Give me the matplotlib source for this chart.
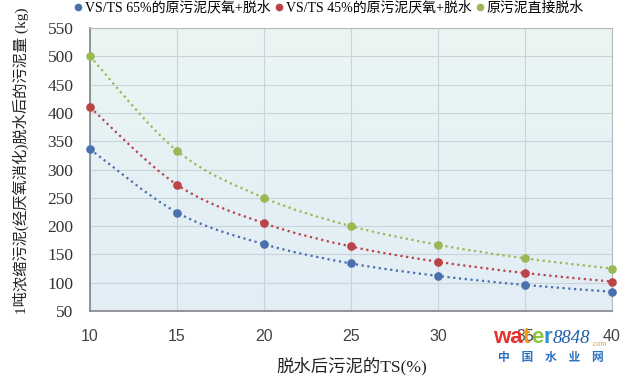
import numpy as np
import matplotlib.pyplot as plt
from matplotlib.path import Path
from matplotlib.patches import PathPatch
from matplotlib.lines import Line2D
from matplotlib.colors import LinearSegmentedColormap

plt.rcParams['font.family'] = ['Liberation Serif', 'Noto Sans CJK SC', 'DejaVu Sans']

ts = [10, 15, 20, 25, 30, 35, 40]
vs65 = [336, 224, 168, 134, 112, 96, 84]
vs45 = [410, 273, 205, 164, 137, 117, 102]
raw = [500, 333, 250, 200, 167, 143, 125]

names = ['VS/TS 65%的原污泥厌氧+脱水', 'VS/TS 45%的原污泥厌氧+脱水', '原污泥直接脱水']
colors = ['#4a70ad', '#b94347', '#98b954']

yticks = [50, 100, 150, 200, 250, 300, 350, 400, 450, 500, 550]
xticks = [10, 15, 20, 25, 30, 35, 40]

W, H = 620, 375


def smooth_path(x, y):
    # catmull-rom style bezier, like excel's smoothed line
    x = np.asarray(x, float)
    y = np.asarray(y, float)
    verts = [(x[0], y[0])]
    codes = [Path.MOVETO]
    n = len(x)
    for i in range(n - 1):
        p0 = (x[max(i - 1, 0)], y[max(i - 1, 0)])
        p1 = (x[i], y[i])
        p2 = (x[i + 1], y[i + 1])
        p3 = (x[min(i + 2, n - 1)], y[min(i + 2, n - 1)])
        c1 = (p1[0] + (p2[0] - p0[0]) / 6, p1[1] + (p2[1] - p0[1]) / 6)
        c2 = (p2[0] - (p3[0] - p1[0]) / 6, p2[1] - (p3[1] - p1[1]) / 6)
        verts += [c1, c2, p2]
        codes += [Path.CURVE4] * 3
    return Path(verts, codes)


def px(x, y):
    return x / W, 1 - y / H


fig = plt.figure(figsize=(6.2, 3.75), dpi=100)
ax = fig.add_axes([90 / W, 1 - 311 / H, 522 / W, 283 / H])

# soft gradient background
grad = np.linspace(0, 1, 100).reshape(-1, 1)
cm = LinearSegmentedColormap.from_list('bg', ['#e2edf6', '#eaf5f3'])
ax.imshow(grad, cmap=cm, aspect='auto', extent=[0, 1, 0, 1], transform=ax.transAxes,
          origin='lower', zorder=0)

for series, c in zip([vs65, vs45, raw], colors):
    ax.add_patch(PathPatch(smooth_path(ts, series), fill=False, edgecolor=c,
                           lw=1.6, linestyle=(0, (1, 1.6)), zorder=3))
    ax.plot(ts, series, 'o', color=c, ms=5.2, zorder=4, clip_on=False)

ax.set_xlim(10, 40)
ax.set_ylim(50, 550)
ax.set_xticks(xticks)
ax.set_yticks(yticks)
ax.grid(True, color='#c9d3da', lw=0.8, zorder=1)
ax.set_axisbelow(True)
for s in ax.spines.values():
    s.set_color('#b8bcc0')
    s.set_linewidth(0.8)
ax.spines['left'].set_color('#7f8488')
ax.spines['left'].set_linewidth(1.2)
ax.spines['bottom'].set_color('#7f8488')
ax.spines['bottom'].set_linewidth(1.2)
ax.tick_params(axis='y', length=0, pad=12)
ax.tick_params(axis='x', length=0, pad=13)
for lab in ax.get_yticklabels():
    lab.set_fontsize(12.5)
    lab.set_color('#333333')
for lab in ax.get_xticklabels():
    lab.set_family(['Liberation Sans', 'DejaVu Sans'])
    lab.set_fontsize(11.5)
    lab.set_color('#444444')

fig.text(*px(352, 366), '脱水后污泥的TS(%)', fontsize=12.5, color='#222222',
         ha='center', va='center')
fig.text(*px(21, 161), '1吨浓缩污泥(经厌氧消化)脱水后的污泥量 (kg)', fontsize=11,
         color='#222222', rotation=90, ha='center', va='center')

handles = [Line2D([], [], marker='o', ls='none', color=c, ms=4.5) for c in colors]
fig.legend(handles, names, loc='center left', bbox_to_anchor=(0.122, 1 - 8 / H), ncol=3,
           frameon=False, fontsize=10, handlelength=0.4, handletextpad=0.25,
           columnspacing=0.45, borderaxespad=0, borderpad=0)

# watermark, letters placed one after another
renderer = fig.canvas.get_renderer()
x0 = 493
pieces = [('wa', '#e5322d', 16, 'bold', 'normal', ['Liberation Sans'], 343),
          ('t', '#f39a1e', 16, 'bold', 'normal', ['Liberation Sans'], 343),
          ('e', '#8cc43f', 16, 'bold', 'normal', ['Liberation Sans'], 343),
          ('r', '#2f8fd6', 16, 'bold', 'normal', ['Liberation Sans'], 343),
          ('8848', '#1f5fa8', 13.5, 'normal', 'italic', ['Liberation Serif'], 343),
          ('.com', '#f39a1e', 5, 'normal', 'normal', ['Liberation Sans'], 346)]
for s, c, fs, fw, st, fam, yb in pieces:
    t = fig.text(*px(x0, yb), s, color=c, fontsize=fs, fontweight=fw, style=st,
                 family=fam, ha='left', va='baseline')
    x0 += t.get_window_extent(renderer).width + 0.5
fig.text(*px(551, 358), '中　国　水　业　网', color='#2b73c4', fontsize=8.5,
         fontweight='bold', family=['Noto Sans CJK SC'], ha='center', va='center')

fig.savefig('out.png', dpi=100)
